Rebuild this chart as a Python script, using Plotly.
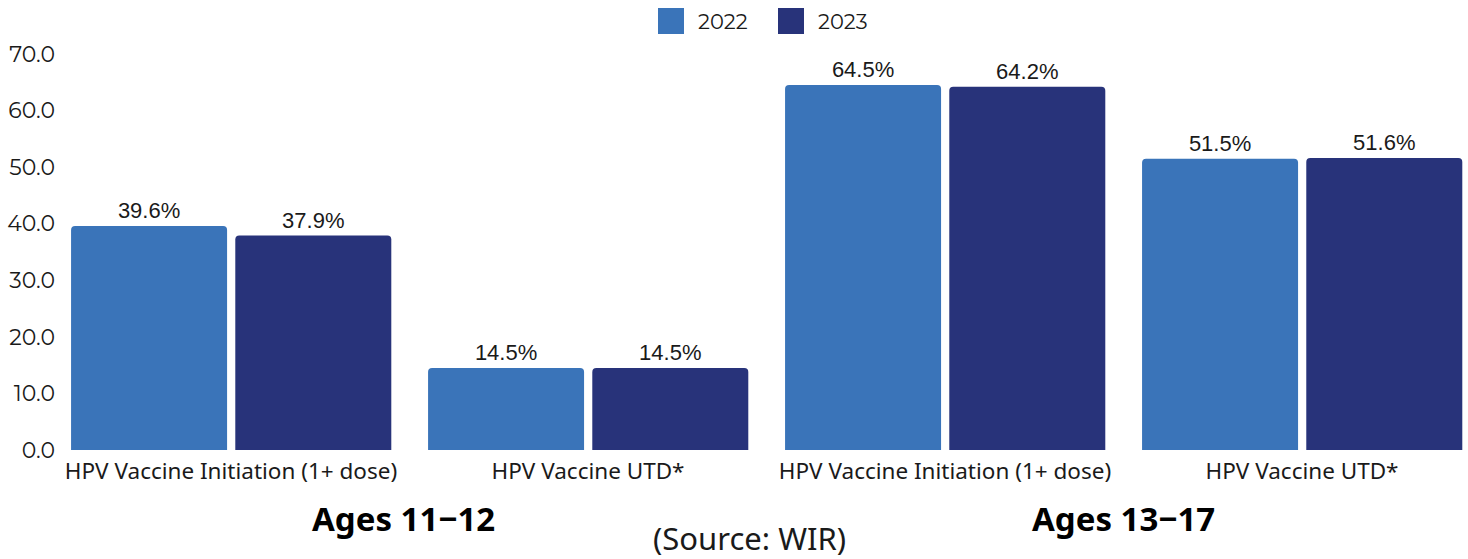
import plotly.graph_objects as go

# Vaccination coverage by measure and age group
categories = ["HPV Vaccine Initiation (1+ dose)", "HPV Vaccine UTD*",
              "HPV Vaccine Initiation (1+ dose)", "HPV Vaccine UTD*"]
age_groups = ["Ages 11\u221212", "Ages 13\u221217"]
years = ["2022", "2023"]
values_2022 = [39.6, 14.5, 64.5, 51.5]
values_2023 = [37.9, 14.5, 64.2, 51.6]
y_ticks = [0, 10, 20, 30, 40, 50, 60, 70]

colors = {"2022": "#3A74B9", "2023": "#28337A"}
x_pos = list(range(len(categories)))

BAR_W = 0.437
fig = go.Figure()
for year, vals, off in [("2022", values_2022, -0.448), ("2023", values_2023, 0.012)]:
    fig.add_trace(go.Bar(
        x=x_pos, y=vals, name=year, width=BAR_W, offset=off,
        marker=dict(color=colors[year], cornerradius=4, line=dict(width=0)),
        texttemplate="%{y:.1f}%", textposition="outside",
        textfont=dict(family="Liberation Sans, Arial", size=22, color="#1a1a1a"),
        cliponaxis=False, showlegend=False,
    ))

L, R, T, B = 70, 5, 54, 109
W, H = 1468, 559
fig.update_layout(
    width=W, height=H, barmode="overlay",
    margin=dict(l=L, r=R, t=T, b=B),
    plot_bgcolor="white", paper_bgcolor="white",
    font=dict(family="Noto Sans", color="#1a1a1a"),
    xaxis=dict(tickmode="array", tickvals=x_pos, ticktext=categories,
               range=[-0.451, 3.451], showgrid=False, zeroline=False,
               showline=False, ticks="", ticklabelstandoff=5,
               tickfont=dict(family="Noto Sans", size=22.5, color="#1a1a1a")),
    yaxis=dict(range=[0, 70], tickvals=y_ticks, tickformat=".1f",
               showgrid=False, zeroline=False, showline=False, ticks="",
               ticklabelstandoff=14,
               tickfont=dict(family="Montserrat, Lato, Open Sans", size=22, color="#1a1a1a")),
)

# Age-group labels centred under each pair of categories
pw = W - L - R
def px_to_paper(px):
    return (px - L) / pw

for i, (g, shift) in enumerate(zip(age_groups, [-6, 0])):
    fig.add_annotation(x=2 * i + 0.5, xref="x", y=(450 - 518) / (450 - 54), yref="paper",
                       text=f"<b>{g}</b>", showarrow=False, xshift=shift,
                       font=dict(family="Noto Sans", size=33, color="#000000"),
                       yanchor="middle")

fig.add_annotation(x=px_to_paper(749), xref="paper", y=(450 - 538) / (450 - 54), yref="paper",
                   text="(Source: WIR)", showarrow=False, yanchor="middle",
                   font=dict(family="Noto Sans", size=31, color="#1a1a1a"))

# Legend drawn as swatches with labels above the plot
legend_y = (450 - 21) / (450 - 54)
half = 13 / (450 - 54)
for year, sx in [("2022", 658), ("2023", 778)]:
    fig.add_shape(type="rect", xref="paper", yref="paper",
                  x0=px_to_paper(sx), x1=px_to_paper(sx + 26),
                  y0=legend_y - half, y1=legend_y + half,
                  fillcolor=colors[year], line=dict(width=0))
    fig.add_annotation(x=px_to_paper(sx + 38), xref="paper", y=legend_y, yref="paper",
                       text=year, showarrow=False, xanchor="left", yanchor="middle",
                       font=dict(family="Montserrat, Lato, Open Sans", size=21, color="#1a1a1a"))

fig.write_html("out.html")
